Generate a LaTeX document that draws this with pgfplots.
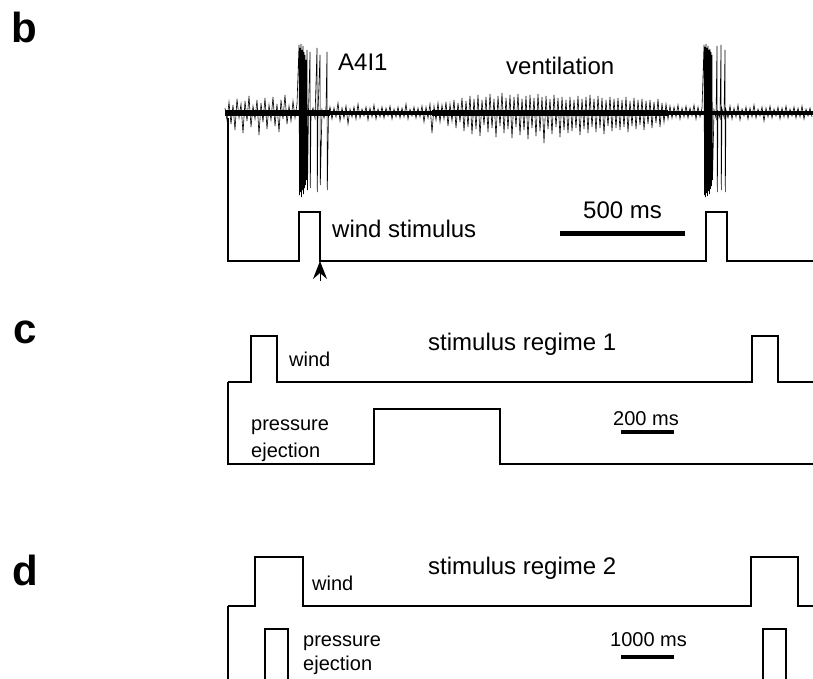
\documentclass[border=0pt]{standalone}
\usepackage{fontspec}
\setmainfont{Liberation Sans}
\usepackage{pgfplots}
\pgfplotsset{compat=1.18}
\usetikzlibrary{arrows.meta}
\begin{document}
\begin{tikzpicture}
\begin{axis}[scale only axis, width=813pt, height=679pt,
  xmin=0, xmax=813, ymin=0, ymax=679, y dir=reverse,
  axis lines=none, clip=true, unbounded coords=jump]
\addplot[draw=none] coordinates {(0,0)(813,679)};
% ---------------- panel b: recording (core band)
\addplot[line width=6pt] coordinates {(225,113)(330,113)};
\addplot[line width=4pt] coordinates {(330,113)(432,113)};
\addplot[line width=6pt] coordinates {(432,113)(668,113)};
\addplot[line width=4pt] coordinates {(668,113)(813,113)};
% spikes
\addplot[line width=0.6pt] coordinates {
(225,108)(227,120)(229,102)(231,124)(233,105)(235,130)(237,99)(239,118)(241,104)(243,133)(245,101)(247,121)(249,96)(251,127)(253,106)(255,119)(257,100)(259,135)(261,103)(263,122)(265,98)(267,129)(269,105)(271,120)(273,97)(275,126)(277,104)(279,132)(281,100)(283,119)(285,95)(287,124)(289,106)(291,121)(293,101)(295,118)(297,104)
(299,45)(299.5,195)(300,48)(300.5,192)(301,44)(301.5,197)(302,50)(302.5,190)(303,46)(303.5,194)(304,52)(304.5,188)(305,55)(305.5,185)(306,60)(306.5,180)
(307,50)(307.5,190)(308.5,110)(310,52)(310.3,188)(311,115)(313,108)(315,118)(317,48)(317.3,192)(318,112)(320,55)(320.3,185)(322,110)(324,118)(326,109)(327,52)(327.3,190)(328.5,114)
(330,107)(332,119)(334,108)(336,117)(338,103)(340,121)(342,108)(344,118)(346,106)(348,124)(350,109)(352,117)(354,107)(356,119)(358,104)(360,118)(362,109)(364,116)(366,107)(368,120)(370,108)(372,117)(374,105)(376,119)(378,109)(380,117)(382,107)(384,118)(386,108)(388,116)(390,106)(392,119)(394,109)(396,117)(398,107)(400,118)(402,108)(404,117)(406,104)(408,119)(410,109)(412,116)(414,107)(416,118)(418,108)(420,117)(422,106)(424,122)(426,107)(428,118)
(430,104)(432,133)(434,106)(436,120)(438,103)(440,122)(442,105)(444,119)(446,102)(448,126)(450,104)(452,121)(454,100)(456,128)(458,103)(460,122)(462,98)(464,131)(466,101)(468,127)(470,96)(472,134)(474,99)(476,129)(478,95)(480,136)(482,100)(484,125)(486,97)(488,132)(490,94)(492,128)(494,99)(496,137)(498,96)(500,126)(502,93)(504,133)(506,98)(508,129)(510,95)(512,138)(514,97)(516,127)(518,94)(520,135)(522,99)(524,130)(526,96)(528,139)(530,95)(532,128)(534,98)(536,136)(538,94)(540,131)(542,97)(544,143)(546,96)(548,129)(550,99)(552,134)(554,95)(556,127)(558,98)(560,137)(562,97)(564,130)(566,100)(568,133)
(570,97)(572,131)(574,100)(576,128)(578,96)(580,135)(582,99)(584,129)(586,97)(588,133)(590,95)(592,127)(594,99)(596,132)(598,96)(600,128)(602,98)(604,134)(606,100)(608,126)(610,97)(612,131)(614,99)(616,128)(618,98)(620,130)(622,100)(624,127)(626,97)(628,132)(630,101)(632,126)(634,98)(636,129)(638,100)(640,125)(642,99)(644,130)(646,101)(648,124)(650,100)(652,128)(654,102)(656,123)(658,99)(660,127)(662,103)(664,122)(666,104)(668,119)(670,106)(672,118)(674,107)(676,117)(678,105)(680,119)(682,108)(684,117)(686,106)(688,118)(690,108)(692,116)(694,105)(696,119)(698,107)(700,117)(702,108)
(704,45)(704.5,195)(705,47)(705.5,197)(706,44)(706.5,193)(707,48)(707.5,196)(708,46)(708.5,191)(709,50)(709.5,194)(710,49)(710.5,189)(711,52)(711.5,186)(712,55)(712.5,180)(714,110)(716,118)(717,46)(717.3,192)(718,112)(720,118)(721,45)(721.3,190)(722,109)(724,117)(725,50)(725.3,192)(726,110)(728,118)
(730,106)(732,119)(734,108)(736,117)(738,105)(740,120)(742,109)(744,116)(746,107)(748,119)(750,108)(752,117)(754,105)(756,118)(758,109)(760,116)(762,107)(764,121)(766,108)(768,117)(770,106)(772,118)(774,109)(776,116)(778,107)(780,119)(782,108)(784,117)(786,106)(788,118)(790,109)(792,116)(794,107)(796,118)(798,108)(800,117)(802,106)(804,119)(806,109)(808,116)(810,108)(812,117)
};
% stimulus b
\addplot[line width=2pt] coordinates {(228,118)(228,261)(299,261)(299,212)(320,212)(320,261)(706,261)(706,212)(727,212)(727,261)(813,261)};
\addplot[line width=1pt, -{Stealth[length=18pt,width=14pt,inset=6pt]}] coordinates {(320,281)(320,261)};
% scale bar b
\addplot[line width=5pt] coordinates {(560,233)(685,233)};
% ---------------- panel c
\addplot[line width=1.8pt] coordinates {(228,382)(251,382)(251,336)(277,336)(277,382)(752,382)(752,336)(778,336)(778,382)(813,382)};
\addplot[line width=1.8pt] coordinates {(228,382)(228,464)(374,464)(374,409)(500,409)(500,464)(813,464)};
\addplot[line width=4pt] coordinates {(621,432)(674,432)};
% ---------------- panel d
\addplot[line width=1.8pt] coordinates {(228,606)(255,606)(255,557)(303,557)(303,606)(751,606)(751,557)(798,557)(798,606)(813,606)};
\addplot[line width=1.8pt] coordinates {(228,606)(228,700)(nan,nan)(265,700)(265,629)(288,629)(288,700)(nan,nan)(763,700)(763,629)(786,629)(786,700)};
\addplot[line width=4pt] coordinates {(621,657)(674,657)};
% ---------------- texts
\node[anchor=base west, font=\fontsize{42}{48}\selectfont\bfseries] at (axis cs:8,43) {b};
\node[anchor=base west, font=\fontsize{42}{48}\selectfont\bfseries] at (axis cs:10,343) {c};
\node[anchor=base west, font=\fontsize{42}{48}\selectfont\bfseries] at (axis cs:9,585) {d};
\node[anchor=base west, inner sep=0pt, font=\fontsize{24}{28}\selectfont] at (axis cs:338,71) {A4I1};
\node[anchor=base west, inner sep=0pt, font=\fontsize{24}{28}\selectfont] at (axis cs:506,75) {ventilation};
\node[anchor=base west, inner sep=0pt, font=\fontsize{24}{28}\selectfont] at (axis cs:332,237) {wind stimulus};
\node[anchor=base west, inner sep=0pt, font=\fontsize{24}{28}\selectfont] at (axis cs:583,218) {500 ms};
\node[anchor=base west, inner sep=0pt, font=\fontsize{24}{28}\selectfont] at (axis cs:428,350) {stimulus regime 1};
\node[anchor=base west, inner sep=0pt, font=\fontsize{20}{24}\selectfont] at (axis cs:289,366) {wind};
\node[anchor=base west, inner sep=0pt, font=\fontsize{20}{24}\selectfont] at (axis cs:251,430) {pressure};
\node[anchor=base west, inner sep=0pt, font=\fontsize{20}{24}\selectfont] at (axis cs:251,457) {ejection};
\node[anchor=base west, inner sep=0pt, font=\fontsize{20}{24}\selectfont] at (axis cs:613,425) {200 ms};
\node[anchor=base west, inner sep=0pt, font=\fontsize{24}{28}\selectfont] at (axis cs:428,574) {stimulus regime 2};
\node[anchor=base west, inner sep=0pt, font=\fontsize{20}{24}\selectfont] at (axis cs:312,590) {wind};
\node[anchor=base west, inner sep=0pt, font=\fontsize{20}{24}\selectfont] at (axis cs:303,646) {pressure};
\node[anchor=base west, inner sep=0pt, font=\fontsize{20}{24}\selectfont] at (axis cs:303,670) {ejection};
\node[anchor=base west, inner sep=0pt, font=\fontsize{20}{24}\selectfont] at (axis cs:610,646) {1000 ms};
\end{axis}
\end{tikzpicture}
\end{document}
